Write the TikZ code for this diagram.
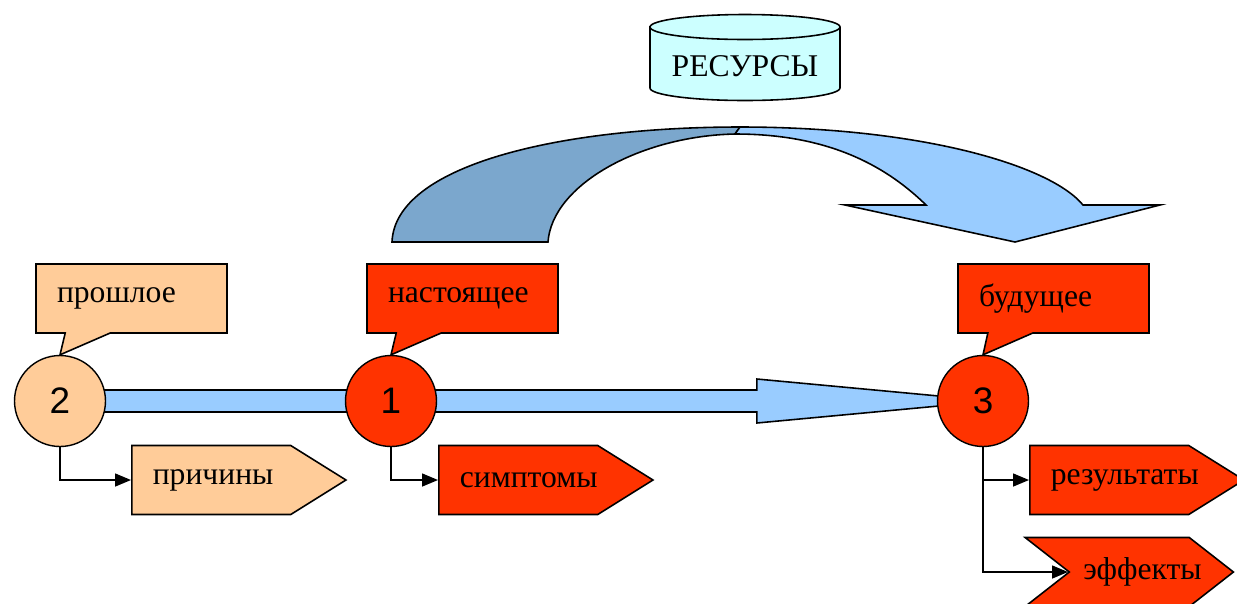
\documentclass[tikz,border=0pt]{standalone}
\usepackage{fontspec}
\setmainfont{Liberation Serif}
\newfontfamily\numfont{Liberation Sans}
\usetikzlibrary{shapes.callouts,shapes.symbols,arrows.meta,calc,backgrounds}

\definecolor{peach}{HTML}{FFCC99}
\definecolor{hot}{HTML}{FF3300}
\definecolor{sky}{HTML}{99CCFF}
\definecolor{steel}{HTML}{7BA7CD}
\definecolor{ice}{HTML}{CCFFFF}

\begin{document}
\begin{tikzpicture}[x=0.02cm, y=-0.02cm,
	lbl/.style={font=\fontsize{18}{20}\selectfont},
	point/.style={circle, draw, line width=0.8pt, minimum size=1.82cm, inner sep=0pt, font=\numfont\fontsize{21}{24}\selectfont},
	note/.style={rectangle callout, draw, lbl, line width=0.9pt, minimum width=3.82cm, minimum height=1.38cm, text width=2.98cm, inner xsep=0.42cm, align=left, callout pointer width=0.9cm},
	tag/.style={signal, signal to=east, draw, lbl, line width=0.9pt, minimum height=1.38cm, signal pointer angle=64, inner xsep=0.42cm, text width=2.34cm, align=left},
	band/.style={draw, fill=sky, line width=0.9pt},
	seta/.style={-{Triangle[length=0.32cm, width=0.26cm]}, line width=0.9pt}
	]
	\useasboundingbox (0,0) rectangle (1237,603);

	% resources drum
	\draw[fill=ice, line width=0.9pt] (650,27) -- (650,88) arc[start angle=180, end angle=360, x radius=1.9cm, y radius=0.25cm] -- (840,27) arc[start angle=0, end angle=180, x radius=1.9cm, y radius=0.25cm] -- cycle;
	\draw[line width=0.9pt] (650,27) arc[start angle=180, end angle=360, x radius=1.9cm, y radius=0.25cm];
	\node[lbl] (res) at (745,66) {РЕСУРСЫ};

	% curved arrow
	\draw[fill=steel, line width=0.9pt] (392,242) .. controls (395,165) and (560,127) .. (740,127) -- (735,134) .. controls (640,136) and (552,185) .. (548,242) -- cycle;
	\draw[fill=sky, line width=0.9pt] (740,127) .. controls (920,127) and (1050,165) .. (1083,205) -- (1160,205) -- (1015,242) -- (845,205) -- (926,205) .. controls (880,160) and (820,134) .. (735,134) -- cycle;

	% time points
	\node[point, fill=peach] (past) at (60,401) {2};
	\node[point, fill=hot] (now) at (391,401) {1};
	\node[point, fill=hot] (future) at (983,401) {3};

	\node[note, fill=peach, callout absolute pointer={(past.north)}] (pastnote) at (131.5,298.5) {прошлое};
	\node[note, fill=hot, callout absolute pointer={(now.north)}] (nownote) at (462.5,298.5) {настоящее};
	\node[note, fill=hot, callout absolute pointer={(future.north)}] (futurenote) at (1053.5,298.5) {будущее};

	\node[tag, fill=peach, anchor=west] (cause) at (131,480) {причины};
	\node[tag, fill=hot, anchor=west] (symptom) at (438,480) {симптомы};
	\node[tag, fill=hot, anchor=west] (result) at (1029,480) {результаты};
	\node[tag, fill=hot, signal from=west, signal pointer angle=76, inner xsep=0.28cm, text width=1.84cm, anchor=west] (effect) at (1068,572) {эффекты};

	% time axis
	\begin{scope}[on background layer]
	\draw[band] ($(past.center)+(0,-11)$) rectangle ($(now.center)+(0,11)$);
	\draw[band] ($(now.center)+(0,-11)$) -| ($(future.west)+(-180,-22)$) -- ($(future.west)+(2,-5)$) -- ($(future.west)+(2,5)$) -- ($(future.west)+(-180,22)$) |- ($(now.center)+(0,11)$) -- cycle;
	\end{scope}

	\draw[seta] (past.south) |- (cause.west);
	\draw[seta] (now.south) |- (symptom.west);
	\draw[seta] (future.south) |- (result.west);
	\draw[seta] (future.south) |- (effect.west);
\end{tikzpicture}
\end{document}
